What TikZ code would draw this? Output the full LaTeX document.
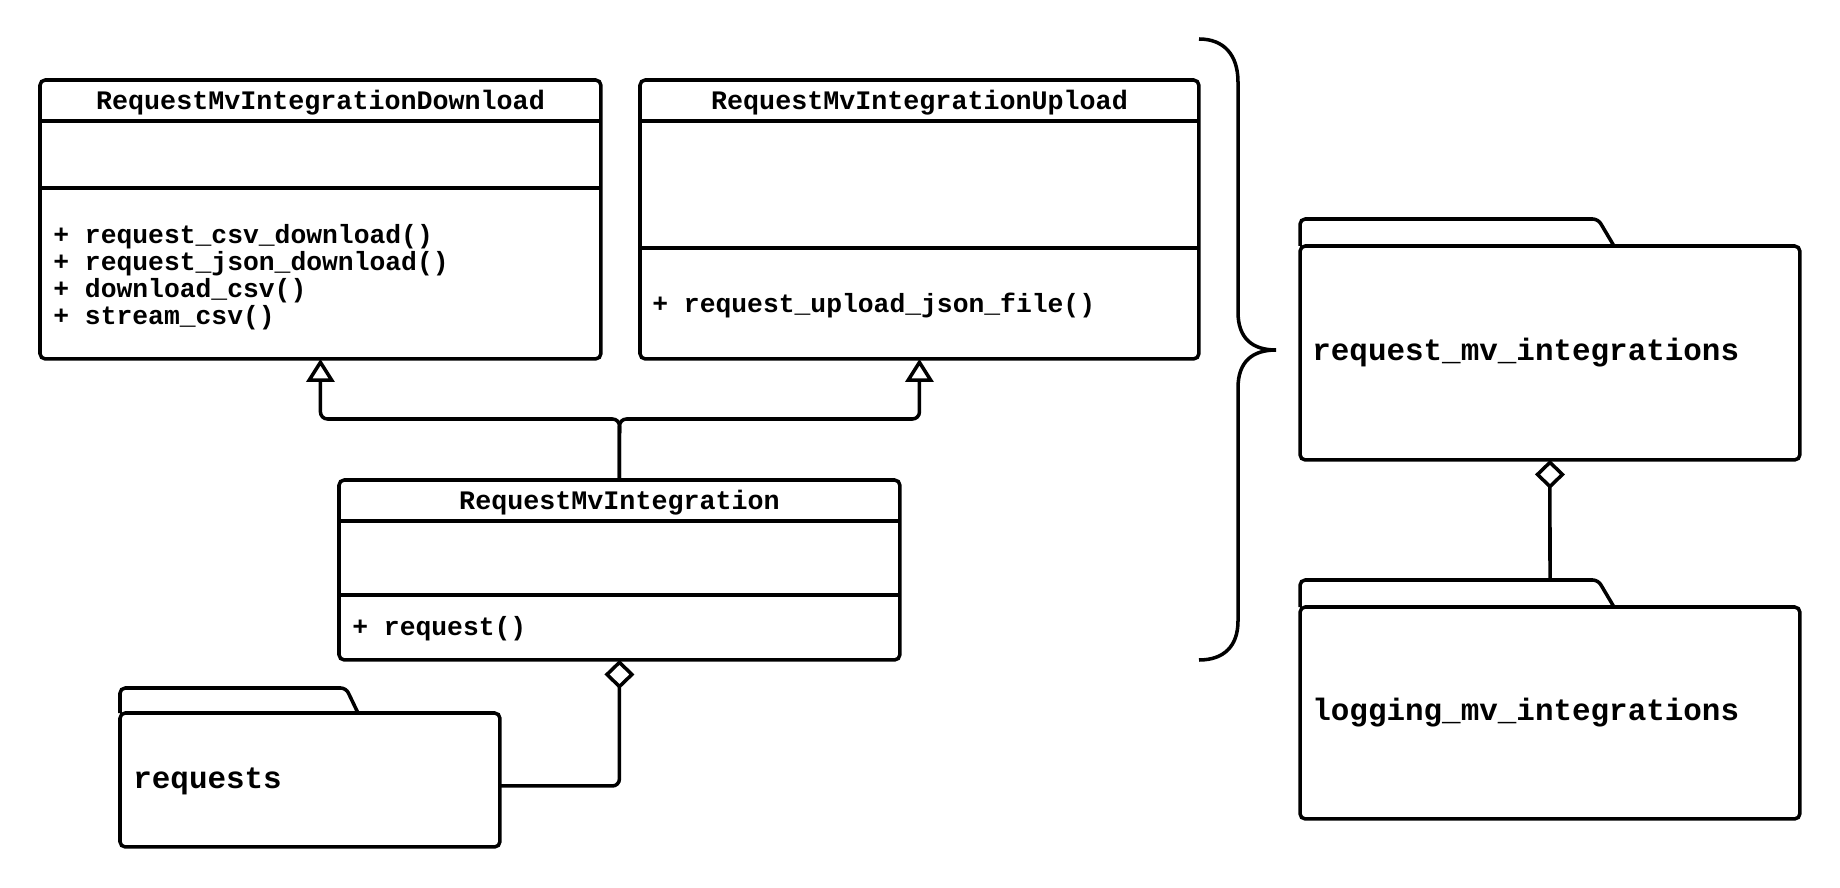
\documentclass[tikz,border=0pt]{standalone}
\usepackage{fontspec}
\setmainfont{Liberation Mono}
\usetikzlibrary{arrows.meta}

\tikzset{
  umlbox/.style={draw, line width=2pt, rounded corners=3pt, inner sep=0pt, outer sep=0pt, anchor=north west},
  sep/.style={line width=2pt},
  ctitle/.style={font=\fontsize{15.2}{15.2}\selectfont\bfseries, inner sep=0pt},
  cmeth/.style={font=\fontsize{15}{15.3}\selectfont\bfseries, inner sep=0pt, align=left, anchor=west},
  plabel/.style={font=\fontsize{17.6}{18}\selectfont\bfseries, inner sep=0pt, anchor=west},
  conn/.style={line width=2pt, rounded corners=4pt},
  inherit/.style={conn, -{Triangle[open, length=0.46cm, width=0.56cm]}},
  aggr/.style={conn, {Diamond[open, length=0.58cm, width=0.6cm]}-},
}

\begin{document}
\begin{tikzpicture}[x=0.02cm, y=-0.02cm]
\useasboundingbox (0,0) rectangle (1840,888);

% download class
\node[umlbox, minimum width=11.22cm, minimum height=5.58cm] (dl) at (40,80) {};
\node[ctitle] (dl title) at (320.5,103) {RequestMvIntegrationDownload};
\draw[sep] (dl.west |- 0,121) -- (dl.east |- 0,121);
\draw[sep] (dl.west |- 0,188) -- (dl.east |- 0,188);
\node[cmeth] (dl ops) at (53,277) {+ request\_csv\_download()\\+ request\_json\_download()\\+ download\_csv()\\+ stream\_csv()};

% upload class
\node[umlbox, minimum width=11.18cm, minimum height=5.58cm] (ul) at (640,80) {};
\node[ctitle] (ul title) at (919.5,103) {RequestMvIntegrationUpload};
\draw[sep] (ul.west |- 0,121) -- (ul.east |- 0,121);
\draw[sep] (ul.west |- 0,248) -- (ul.east |- 0,248);
\node[cmeth] (ul ops) at (652,305) {+ request\_upload\_json\_file()};

% base class
\node[umlbox, minimum width=11.22cm, minimum height=3.6cm] (rmi) at (339,480) {};
\node[ctitle] (rmi title) at (619.5,503) {RequestMvIntegration};
\draw[sep] (rmi.west |- 0,521) -- (rmi.east |- 0,521);
\draw[sep] (rmi.west |- 0,595) -- (rmi.east |- 0,595);
\node[cmeth] (rmi ops) at (352,629) {+ request()};

% packages
\draw[sep, rounded corners=3pt] (120,713) -- (120,688) -- (346,688) -- (358,713);
\node[umlbox, minimum width=7.6cm, minimum height=2.68cm] (req) at (120,713) {};
\node[plabel] (req label) at (133,781) {requests};

\draw[sep, rounded corners=3pt] (1300,246) -- (1300,219) -- (1598,219) -- (1614,246);
\node[umlbox, minimum width=10cm, minimum height=4.28cm] (rpk) at (1300,246) {};
\node[plabel] (rpk label) at (1312,353) {request\_mv\_integrations};

\draw[sep, rounded corners=3pt] (1300,607) -- (1300,580) -- (1598,580) -- (1614,607);
\node[umlbox, minimum width=10cm, minimum height=4.24cm] (lpk) at (1300,607) {};
\node[plabel] (lpk label) at (1312,713) {logging\_mv\_integrations};
\coordinate (lpk tab) at (1550,580);

% brace
\draw[sep] (1199,39) .. controls (1224,39) and (1238,55) .. (1238,82) -- (1238,312)
  .. controls (1238,338) and (1252,350) .. (1276,350)
  .. controls (1252,350) and (1238,362) .. (1238,388) -- (1238,621)
  .. controls (1238,646) and (1224,660) .. (1199,660);

% connectors
\coordinate (fork) at (619.5,419);
\draw[inherit] (rmi.north) -- (fork) -| (dl.south);
\draw[inherit] (rmi.north) -- (fork) -| (ul.south);
\draw[aggr] (rmi.south) |- ([yshift=-0.12cm]req.east);
\draw[aggr] (rpk.south) -- (lpk tab);

\end{tikzpicture}
\end{document}
